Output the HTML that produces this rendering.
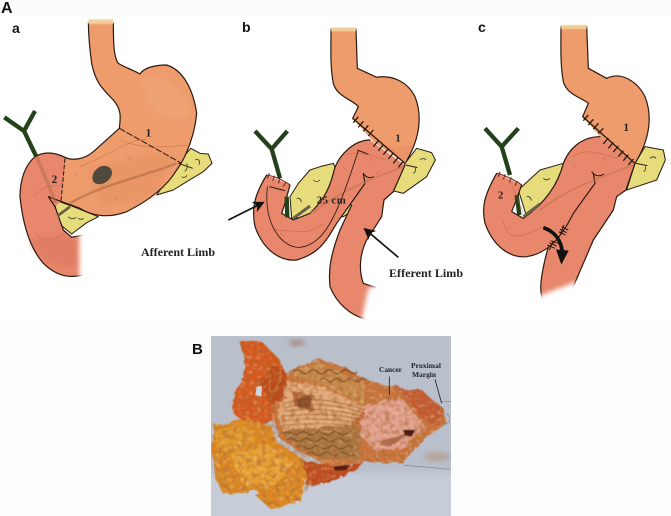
<!DOCTYPE html>
<html><head><meta charset="utf-8"><style>
html,body{margin:0;padding:0;background:#fff}
svg{display:block}
text{font-family:"Liberation Serif",serif;font-weight:bold;fill:#222}
.h{font-family:"Liberation Sans",sans-serif;fill:#111}
.o{fill:none;stroke:#2a1a12;stroke-width:3.6;stroke-linejoin:round;stroke-linecap:round}
.s{fill:#ee9c6c}.d{fill:#e8876b}
.y{fill:#e6dc7c;stroke:#2a1a12;stroke-width:3;stroke-linejoin:round}
.v{fill:none;stroke:#b5603f;stroke-width:2;opacity:.55}
.k{fill:none;stroke:#2a1a12;stroke-width:3}
.q{fill:none;stroke:#3a3a20;stroke-width:2.5}
.g{fill:none;stroke:#24421a;stroke-width:13;stroke-linejoin:miter}
.r{fill:none;stroke:#7a4a24;stroke-width:2.4;opacity:.6}
</style></head><body>
<svg width="671" height="516" viewBox="0 0 671 516" xmlns="http://www.w3.org/2000/svg">
<defs>
<filter id="b1" x="-30%" y="-30%" width="160%" height="160%"><feGaussianBlur stdDeviation="7"/></filter>
<filter id="b2" x="-20%" y="-20%" width="140%" height="140%"><feGaussianBlur stdDeviation="1.6"/></filter>
<filter id="b3" x="-30%" y="-30%" width="160%" height="160%"><feGaussianBlur stdDeviation="9"/></filter>
<filter id="soft" x="-2%" y="-2%" width="104%" height="104%"><feGaussianBlur stdDeviation="1.4"/></filter>
<filter id="rough" x="-5%" y="-5%" width="110%" height="110%"><feTurbulence type="fractalNoise" baseFrequency=".035" numOctaves="3" seed="7" result="n"/><feDisplacementMap in="SourceGraphic" in2="n" scale="24"/><feGaussianBlur stdDeviation="1.2"/></filter>
<filter id="tx" x="0" y="0" width="100%" height="100%"><feTurbulence type="fractalNoise" baseFrequency=".07" numOctaves="3" seed="4"/><feColorMatrix values="0 0 0 0 .42  0 0 0 0 .14  0 0 0 0 .04  4 0 0 0 -1.8"/><feGaussianBlur stdDeviation="2.2"/></filter>
<filter id="tl" x="0" y="0" width="100%" height="100%"><feTurbulence type="fractalNoise" baseFrequency=".09" numOctaves="2" seed="11"/><feColorMatrix values="0 0 0 0 1  0 0 0 0 .85  0 0 0 0 .6  4 0 0 0 -2.2"/><feGaussianBlur stdDeviation="2.2"/></filter>
<clipPath id="ph"><rect x="211" y="336" width="240" height="180"/></clipPath>
<clipPath id="spec"><path d="M150,40 L215,35 L270,90 L285,130 L300,120 L380,85 L470,115 L530,150 L600,170 L690,180 L760,235 L765,280 L700,330 L640,400 L520,395 L440,440 L360,470 L330,510 L240,535 L190,490 L100,490 L75,440 L65,345 L70,285 L175,270 L125,240 L170,120Z"/></clipPath>
<marker id="ah" markerWidth="7" markerHeight="7" refX="5" refY="3.5" orient="auto"><path d="M0,0L7,3.5L0,7L2,3.5Z" fill="#111"/></marker>
</defs>
<rect width="671" height="516" fill="#fff"/>
<rect width="671" height="16" fill="#fcfcfc"/>
<rect y="325" width="671" height="191" fill="#fdfdfd"/>

<text class="h" x="1" y="13" font-size="16">A</text>
<text class="h" x="12" y="33" font-size="14">a</text>
<text class="h" x="242" y="32" font-size="14">b</text>
<text class="h" x="478" y="32" font-size="14">c</text>
<text class="h" x="192" y="354" font-size="15">B</text>

<!-- PANEL A -->
<g transform="scale(.33333)">
<path class="y" d="M530,495 L572,445 L600,460 L625,462 L636,490 L610,515 L560,545 L520,570 L470,585 Z"/>
<path class="y" d="M165,600 L170,665 L215,702 L260,668 L295,650 L220,620 Z"/>
<path class="g" d="M13,352 L72,393 L108,468 M105,333 L72,393"/>
<path class="s" d="M265,60 L340,60 C340,120 340,170 355,190 C380,205 400,210 420,222 C430,205 460,195 500,195 C550,210 580,270 590,340 C585,400 560,470 530,510 C500,560 450,600 380,635 C340,650 290,655 240,625 L185,605 L150,590 L195,472 C215,482 250,480 280,455 L358,385 C362,350 365,330 340,300 C300,260 285,240 275,190 C268,140 265,100 265,60Z"/>
<path class="d" d="M105,470 C130,455 160,455 195,472 L183,605 L165,620 L190,690 L215,712 L250,705 L250,825 C210,835 170,830 130,790 C95,750 70,690 60,590 C60,540 75,495 105,470Z"/>
<path d="M430,230 C500,220 560,280 570,340 C520,380 420,340 430,230Z" fill="#f0a878" filter="url(#b3)" opacity=".6"/>
<path d="M260,500 C340,520 420,440 520,470 L460,590 L300,620Z" fill="#e69060" filter="url(#b3)" opacity=".55"/>
<path d="M90,720 C120,790 180,810 230,800 L230,720 L190,700Z" fill="#dd7a62" filter="url(#b3)" opacity=".7"/>
<path class="o" d="M265,60 C265,100 268,140 275,190 C285,240 300,260 340,300 C365,330 362,350 358,385 L280,455 C250,480 215,482 195,472 C160,455 130,455 105,470 C75,495 60,540 60,590 C70,690 95,750 130,790 C170,830 210,835 250,825"/>
<path class="o" d="M250,705 L215,712 L190,690 L165,620 L145,590 L185,605 L240,625 C290,655 340,650 380,635 C450,600 500,560 530,510 C560,470 585,400 590,340 C580,270 550,210 500,195 C460,195 430,205 420,222 C400,210 380,205 355,190 C340,170 340,120 340,60"/>
<path d="M258,56 H347 V68 H258Z" fill="#fff"/>
<path d="M265,58 H340 V72 H265Z" fill="#f2cf9a" filter="url(#b2)"/>
<path d="M238,695 H275 V840 H238Z" fill="#fff" filter="url(#b1)"/>
<path class="v" d="M360,420 C430,450 500,440 565,435 M100,590 C130,560 160,550 190,560 M105,700 C140,740 170,710 200,700 M240,500 C320,470 400,410 440,420 M300,560 l16,-8 M380,470 l14,8 M440,520 l12,-10 M220,520 l12,6 M340,600 l14,-8"/>
<path d="M210,610 C300,555 430,530 530,490" fill="none" stroke="#b8734c" stroke-width="7" opacity=".75"/>
<path d="M110,470 C130,520 150,560 165,610" fill="none" stroke="#b5704f" stroke-width="11" opacity=".55"/>
<path d="M358,385 L545,490" class="k" stroke-dasharray="20,5" stroke-width="4"/>
<path d="M195,475 L183,605" class="k" stroke-dasharray="14,5" stroke-width="4"/>
<path d="M535,490 L578,505" class="k" stroke-width="5"/>
<path d="M172,648 L210,620" stroke="#6b5f48" stroke-width="8"/>
<path class="q" d="M585,480 c12,-6 16,4 12,14 M560,490 c4,10 0,20 -6,24 M545,530 c6,4 12,2 16,-4 M205,650 c8,8 16,8 24,2 M235,655 c4,4 12,4 16,0"/>
<path d="M300,500 C330,490 345,515 330,535 C315,555 285,560 278,540 C275,520 285,510 300,500Z" fill="#50493c"/>
<text x="437" y="410" font-size="34">1</text>
<text x="155" y="549" font-size="34">2</text>
</g>

<!-- PANEL B -->
<g transform="translate(230,0) scale(.33333)">
<path class="y" d="M525,490 L560,445 L605,458 L616,480 L590,530 L520,580 L480,570Z"/>
<path class="y" d="M180,590 L205,550 L240,510 L270,500 L310,490 L370,630 L340,650 L250,650 L185,655Z"/>
<path class="g" d="M75,393 L125,447 L150,535 M172,393 L125,447"/>
<path class="s" d="M303,82 L378,82 L382,205 L440,232 C480,225 530,240 555,290 C575,340 575,410 525,490 L430,425 L368,355 L385,320 C370,300 320,290 310,250 C300,200 303,140 303,82Z"/>
<path class="o" d="M378,86 L382,205 L440,232 C480,225 530,240 555,290 C575,340 575,410 525,490 M368,355 L385,320 C370,300 320,290 310,250 C300,200 303,140 303,86"/>
<path d="M298,78 H384 V86 H298Z" fill="#fff"/>
<path d="M303,82 H378 V94 H303Z" fill="#f2cf9a" filter="url(#b2)"/>
<path d="M430,420 C480,450 520,440 550,435 L525,490Z" fill="#eb9468"/>
<path class="d" d="M395,520 L525,495 L490,575 L462,600 L455,650 L410,720 C390,760 385,810 400,850 L440,860 L425,900 L405,957 C360,945 320,910 300,860 C295,810 300,770 330,690 L365,615Z"/>
<path class="o" d="M490,575 L462,600 L455,650 L410,720 C390,760 385,810 400,850 L435,862"/>
<path class="o" d="M405,957 C360,945 320,910 300,860 C295,810 300,770 330,690 L365,615"/>
<path d="M415,865 L455,850 L440,970 L392,970Z" fill="#fff" filter="url(#b1)"/>
<path class="d" d="M110,525 L180,555 L165,610 L155,640 L190,660 L240,640 C270,610 295,580 310,520 C320,470 370,420 420,420 L525,495 L490,575 L400,520 L405,550 L370,600 L320,670 C290,720 270,760 200,780 C150,785 100,750 75,680 C65,630 70,590 110,525Z"/>
<path class="o" d="M490,575 L525,495 M420,420 C370,420 320,470 310,520 C295,580 270,610 240,640 L190,660 L155,640 L165,610 L180,555 M110,525 C70,590 65,630 75,680 C100,750 150,785 200,780 C270,760 290,720 320,670 L370,600 L405,550 L400,520"/>
<path d="M170,590 L172,652" stroke="#24421a" stroke-width="13"/>
<path d="M190,655 L240,618" stroke="#6b5f48" stroke-width="9"/>
<path class="v" d="M250,640 C340,560 440,530 520,500 M130,690 C190,690 240,710 280,670 M340,470 C370,450 410,460 470,480 M340,500 l10,14 M420,470 l10,14 M150,700 l14,8 M450,510 l-10,14"/>
<path d="M240,640 C340,570 440,530 520,500" fill="none" stroke="#c97a58" stroke-width="6" opacity=".5"/>
<path d="M112,560 C100,680 160,745 210,742 C290,735 330,620 385,452" fill="none" stroke="#2a1a12" stroke-width="2.5"/>
<path d="M118,560 L165,572 M382,450 L415,463 M400,520 C410,535 420,535 432,530" class="k"/>
<path d="M368,355 L525,490 M370,368 L385,350 M385,382 L400,364 M400,394 L415,376 M415,408 L430,390 M430,440 L445,422 M445,452 L460,434 M460,464 L475,446 M475,477 L490,459 M490,490 L505,472 M505,502 L520,484" fill="none" stroke="#2a1a12" stroke-width="4"/>
<path d="M110,525 C130,528 160,540 180,555 M112,535 L118,520 M128,542 L134,527 M145,550 L150,535 M160,560 L168,545" fill="none" stroke="#7a2a20" stroke-width="3.4"/>
<path d="M528,495 L562,503" class="k" stroke-width="5"/>
<path class="q" d="M250,540 c6,6 14,6 20,0 M200,595 c8,-2 14,4 14,12 M570,480 c6,-6 14,-6 18,0 M550,520 c6,-2 8,-10 6,-16"/>
<text x="496" y="424" font-size="32">1</text>
<text x="260" y="611" font-size="33" letter-spacing="1">25 cm</text>
<path d="M505,772 L408,690" stroke="#111" stroke-width="5" marker-end="url(#ah)"/>
<path d="M-5,660 L95,610" stroke="#111" stroke-width="5" marker-end="url(#ah)"/>
</g>
<text x="141" y="256" font-size="12" textLength="74">Afferent Limb</text>
<text x="389" y="277" font-size="12" textLength="74">Efferent Limb</text>

<!-- PANEL C -->
<g transform="translate(460,0) scale(.33333)">
<path class="y" d="M525,490 L555,440 L610,450 L616,480 L590,540 L500,570Z"/>
<path class="y" d="M175,570 L240,510 L310,490 L365,620 L330,650 L200,650Z"/>
<path class="g" d="M75,385 L125,440 L150,525 M175,385 L125,440"/>
<path class="s" d="M303,75 L380,75 L385,205 L440,235 C480,215 530,240 555,290 C575,340 575,410 525,490 L430,420 L368,350 L385,310 C370,295 320,285 310,245 C300,190 303,130 303,75Z"/>
<path class="o" d="M380,79 L385,205 L440,235 C480,215 530,240 555,290 C575,340 575,410 525,490 M368,350 L385,310 C370,295 320,285 310,245 C300,190 303,130 303,79"/>
<path d="M298,71 H386 V79 H298Z" fill="#fff"/>
<path d="M303,75 H380 V87 H303Z" fill="#f2cf9a" filter="url(#b2)"/>
<path class="d" d="M395,520 L525,490 L498,570 L470,590 L460,630 L400,720 L340,860 L300,890 L250,905 C240,880 235,850 265,740 L320,660 L370,590Z"/>
<path class="o" d="M498,570 L470,590 L460,630 L400,720 L340,860"/>
<path class="o" d="M250,905 C240,880 235,850 265,740"/>
<path d="M232,890 L350,845 L350,885 L262,940 L232,935Z" fill="#fff" filter="url(#b1)"/>
<path class="d" d="M110,520 L185,555 L165,610 L155,635 L190,655 C240,620 290,570 310,490 C330,440 370,410 420,410 L525,490 L498,570 L400,520 L405,550 L340,640 C310,700 270,760 200,770 C150,775 100,740 75,670 C65,625 70,590 110,520Z"/>
<path class="o" d="M498,570 L525,490 M420,410 C370,410 330,440 310,490 C290,570 240,620 190,655 L155,635 L165,610 L185,555 M110,520 C70,590 65,625 75,670 C100,740 150,775 200,770 C270,760 310,700 340,640 L405,550 L400,520"/>
<path d="M170,585 L178,645" stroke="#24421a" stroke-width="13"/>
<path d="M190,650 L240,612" stroke="#6b5f48" stroke-width="9"/>
<path class="v" d="M240,630 C330,560 430,530 520,495 M130,660 C140,740 200,700 250,680 M340,470 C370,445 410,455 470,475 M150,540 C160,570 175,600 190,640 M340,490 l10,14 M430,470 l10,14 M140,680 l14,6"/>
<path d="M240,630 C330,560 430,530 520,495" fill="none" stroke="#c97a58" stroke-width="6" opacity=".5"/>
<path d="M395,515 C405,530 420,530 432,522" class="k"/>
<path d="M368,350 L525,490 M370,362 L385,345 M385,375 L400,358 M400,388 L415,370 M415,400 L430,385 M430,432 L445,414 M445,445 L460,427 M460,456 L475,438 M475,470 L490,452 M490,482 L505,464 M505,495 L520,477" fill="none" stroke="#2a1a12" stroke-width="4"/>
<path d="M110,520 C130,524 165,540 185,555 M115,530 L120,515 M130,538 L136,523 M148,547 L154,532 M165,558 L172,543" fill="none" stroke="#7a2a20" stroke-width="3.4"/>
<path d="M528,490 L562,497" class="k" stroke-width="5"/>
<path d="M262,735 L285,745 M268,728 L290,738 M272,722 L295,730 M296,695 L316,705 M300,688 L320,698 M305,680 L325,690 M268,750 L280,722 M300,705 L312,675" fill="none" stroke="#2a1a12" stroke-width="3"/>
<path d="M250,683 C285,695 305,720 308,765" fill="none" stroke="#111" stroke-width="11"/>
<path d="M288,748 L326,752 L304,794Z" fill="#111"/>
<path class="q" d="M250,535 c6,6 14,6 20,0 M200,590 c8,-2 14,4 14,12 M570,475 c6,-6 14,-6 18,0 M550,515 c6,-2 8,-10 6,-16"/>
<text x="490" y="393" font-size="34">1</text>
<text x="114" y="596" font-size="32">2</text>
</g>

<!-- PHOTO -->
<g clip-path="url(#ph)">
<rect x="211" y="336" width="240" height="180" fill="#b9c0cc"/>
<g transform="translate(190,330) scale(.33333)">
<rect x="30" y="430" width="790" height="160" fill="#c6ccd8" filter="url(#b3)"/>
<ellipse cx="320" cy="38" rx="25" ry="10" fill="#a98f88" filter="url(#b1)"/>
<ellipse cx="740" cy="380" rx="40" ry="14" fill="#b5a49c" filter="url(#b1)"/>
<g filter="url(#rough)">
<path d="M150,40 L215,35 L270,90 L285,130 L290,210 L250,270 L185,295 L130,250 L125,210 L170,120Z" fill="#d6581c"/>
<path d="M285,130 L380,85 L470,115 L530,150 L600,170 L690,180 L760,235 L765,280 L700,330 L640,400 L520,395 L420,410 L320,360 L265,320 L245,230Z" fill="#c9743a"/>
<path d="M65,345 L70,285 L175,270 L245,290 L265,340 L340,385 L350,440 L330,510 L240,535 L190,490 L100,490 L75,440Z" fill="#dd8a22"/>
<path d="M340,390 L430,410 L530,395 L450,445 L355,470Z" fill="#c04a1c"/>
<path d="M280,150 L400,170 L530,235 L480,285 L280,305 L262,230Z" fill="#e3ab7a"/>
<path d="M305,185 L375,195 L365,240 L315,230Z" fill="#b0653a"/>
<path d="M270,305 L480,285 L525,305 L505,385 L400,385 L320,350Z" fill="#ab763f"/>
<path d="M300,130 L380,95 L530,165 L520,225 L400,165Z" fill="#c98c4c"/>
<path d="M530,225 L640,210 L705,290 L660,340 L560,365 L505,310Z" fill="#e2a391"/>
<path d="M620,170 L700,185 L760,240 L750,285 L700,270Z" fill="#c55a32"/>
<path d="M120,370 L230,340 L310,400 L255,470 L160,465Z" fill="#eaa232"/>
<path d="M75,300 L160,285 L200,330 L120,370 L75,350Z" fill="#e39a2a"/>
<path d="M250,100 L290,130 L285,200 L240,230 L210,150Z" fill="#bd4a18"/>
</g>
<g clip-path="url(#spec)">
<rect x="60" y="20" width="730" height="540" filter="url(#tx)" opacity=".6"/>
<rect x="60" y="20" width="730" height="540" filter="url(#tl)" opacity=".4"/>
</g>
<g filter="url(#soft)">
<path class="r" d="M285,220 C360,195 450,215 525,240 M285,232 C360,215 450,225 525,250 M280,245 C360,232 450,238 520,260 M278,258 C360,250 450,252 515,270 M278,272 C360,265 450,265 505,280 M280,285 C360,280 440,278 495,290"/>
<path d="M280,310 q12,-10 24,0 t24,0 t24,0 t24,0 t24,0 t24,0 t24,0 t24,0 M290,330 q12,-10 24,0 t24,0 t24,0 t24,0 t24,0 t24,0 t24,0 t24,0 M320,352 q12,-10 24,0 t24,0 t24,0 t24,0 t24,0 t24,0 t24,0 M350,372 q12,-10 24,0 t24,0 t24,0 t24,0 t24,0 t24,0 M310,125 q12,-12 24,0 t24,0 t24,0 t24,0 t24,0 t24,0 t24,0 t24,0 M390,150 q10,-10 20,0 t20,0 t20,0 t20,0 t20,0 t20,0 t20,0" fill="none" stroke="#5f3a18" stroke-width="3.4" opacity=".7"/>
</g>
<path d="M570,345 L580,330 L620,320 L660,305 L645,320 L600,350Z" fill="#a05a34" opacity=".7" filter="url(#b2)"/>
<path d="M640,300 L675,300 L665,320 L645,315Z" fill="#4a1a10" filter="url(#b2)"/>
<path d="M430,410 L480,405 L470,420 L435,422Z" fill="#5a1a10" filter="url(#b2)"/>
<path d="M320,210 L365,190 L360,235 L325,235Z" fill="#6e3a1e" opacity=".5" filter="url(#b2)"/>
<path d="M200,170 L216,168 L214,200 L196,195Z" fill="#d0d4dc"/>
<ellipse cx="190" cy="488" rx="15" ry="8" fill="#c6ccd8"/>
<path d="M598,140 V195 M735,148 L755,220" stroke="#222" stroke-width="2.5" fill="none"/>
<path d="M755,215 L790,215 M640,405 L780,418 M770,250 C790,270 770,290 750,285" stroke="#80858c" stroke-width="2" fill="none"/>
</g>
<text x="379" y="372" font-size="7.5" textLength="23">Cancer</text>
<text x="411" y="368" font-size="7.5" textLength="30">Proximal</text>
<text x="412" y="377" font-size="7.5" textLength="24">Margin</text>
</g>
</svg>
</body></html>
